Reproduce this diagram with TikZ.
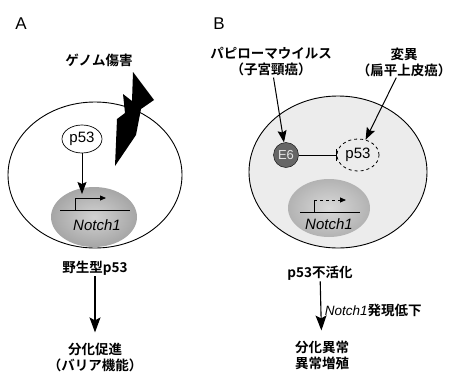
\documentclass[tikz,border=0pt]{standalone}
\usepackage{fontspec}
\setmainfont{Liberation Sans}
\newfontfamily\jp{Noto Sans CJK JP}[BoldFont={Noto Sans CJK JP Bold}]
\usetikzlibrary{arrows.meta,shapes.geometric}
\tikzset{
  panel/.style={font=\fontsize{17}{17}\selectfont},
  jlabel/.style={font=\jp\bfseries\fontsize{13.5}{16}\selectfont,align=center,inner sep=1pt},
  cell/.style={draw,ellipse,line width=0.9pt,inner sep=0pt},
  nucleus/.style={ellipse,inner sep=0pt,minimum width=86pt,minimum height=60pt},
  prot/.style={ellipse,inner sep=0pt,minimum width=40pt,minimum height=28pt,font=\fontsize{15}{15}\selectfont},
  gene/.style={font=\itshape\fontsize{15}{15}\selectfont},
  big/.style={-{Stealth[length=15pt,width=11pt,inset=3pt]},line width=1.1pt},
  mid/.style={-{Stealth[length=12pt,width=9pt,inset=2pt]},line width=1pt},
  tss/.style={-{Triangle[length=6pt,width=5pt]},line width=0.8pt}
}
\begin{document}
\begin{tikzpicture}[x=1pt,y=-1pt]
  \useasboundingbox (0,0) rectangle (454,375);

  % panel A
  \node[cell,minimum width=174pt,minimum height=146pt] (cellA) at (95,175) {};
  \fill (133,72) -- (154,100) -- (141,109) -- (136,135) -- (115,166)
    -- (117,119) -- (125,113) -- (123,94) -- (132,101) -- cycle;
  \draw
    (21,24) node[panel] (A){A}
    (99,60) node[jlabel] (damage){ゲノム傷害}
    (82,139) node[prot,draw,line width=0.7pt] (p53A){p53}
    (94,217) node[nucleus,inner color=gray!35,outer color=gray!70] (nucA){}
    (97,225) node[gene] (notchA){Notch1}
    (95,268) node[jlabel] (wtA){野生型p53}
    (95,357) node[jlabel] (diffA){分化促進\\（バリア機能）};
  \coordinate (tssA) at (82,194);
  \draw[line width=0.9pt] (60,210) -- (130,210);
  \draw[tss] (75,210) -- (75,198) -- (106,198);
  \begin{scope}[mid]
    \draw (p53A) to (tssA);
  \end{scope}
  \draw[big,shorten >=9pt] (wtA) to (diffA);

  % panel B
  \node[cell,fill=gray!15,minimum width=178pt,minimum height=152pt] (cellB) at (338,172) {};
  \draw
    (219,24) node[panel] (B){B}
    (271,62) node[jlabel] (virus){パピローマウイルス\\（子宮頸癌）}
    (404,62) node[jlabel] (mut){変異\\（扁平上皮癌）}
    (286,155) node[circle,draw,fill=black!60,inner sep=0pt,minimum size=25pt,text=black!10,font=\fontsize{13}{13}\selectfont] (E6){E6}
    (358,155) node[prot,draw,dashed,line width=0.8pt,minimum width=42pt,minimum height=32pt] (p53B){p53}
    (329,208) node[nucleus,inner color=gray!30,outer color=gray!60,minimum width=82pt,minimum height=58pt] (nucB){}
    (329,224) node[gene] (notchB){Notch1}
    (320,273) node[jlabel] (inact){p53不活化}
    (322,355) node[jlabel] (abn){分化異常\\異常増殖};
  \draw[line width=0.9pt] (300,212) -- (360,212);
  \draw[line width=0.8pt] (314,212) -- (314,200);
  \draw[tss,dashed] (314,200) -- (346,200);
  \begin{scope}[mid]
    \draw (virus) to (E6);
    \draw (mut) to (p53B);
  \end{scope}
  \draw[-{Bar[width=12pt]},line width=0.9pt] (E6) to (p53B);
  \draw[big,shorten >=9pt] (inact) to node[right,font=\jp\bfseries\fontsize{13.5}{16}\selectfont] (down){\textit{\fontspec{Liberation Sans}\mdseries Notch1}発現低下} (abn);
\end{tikzpicture}
\end{document}
